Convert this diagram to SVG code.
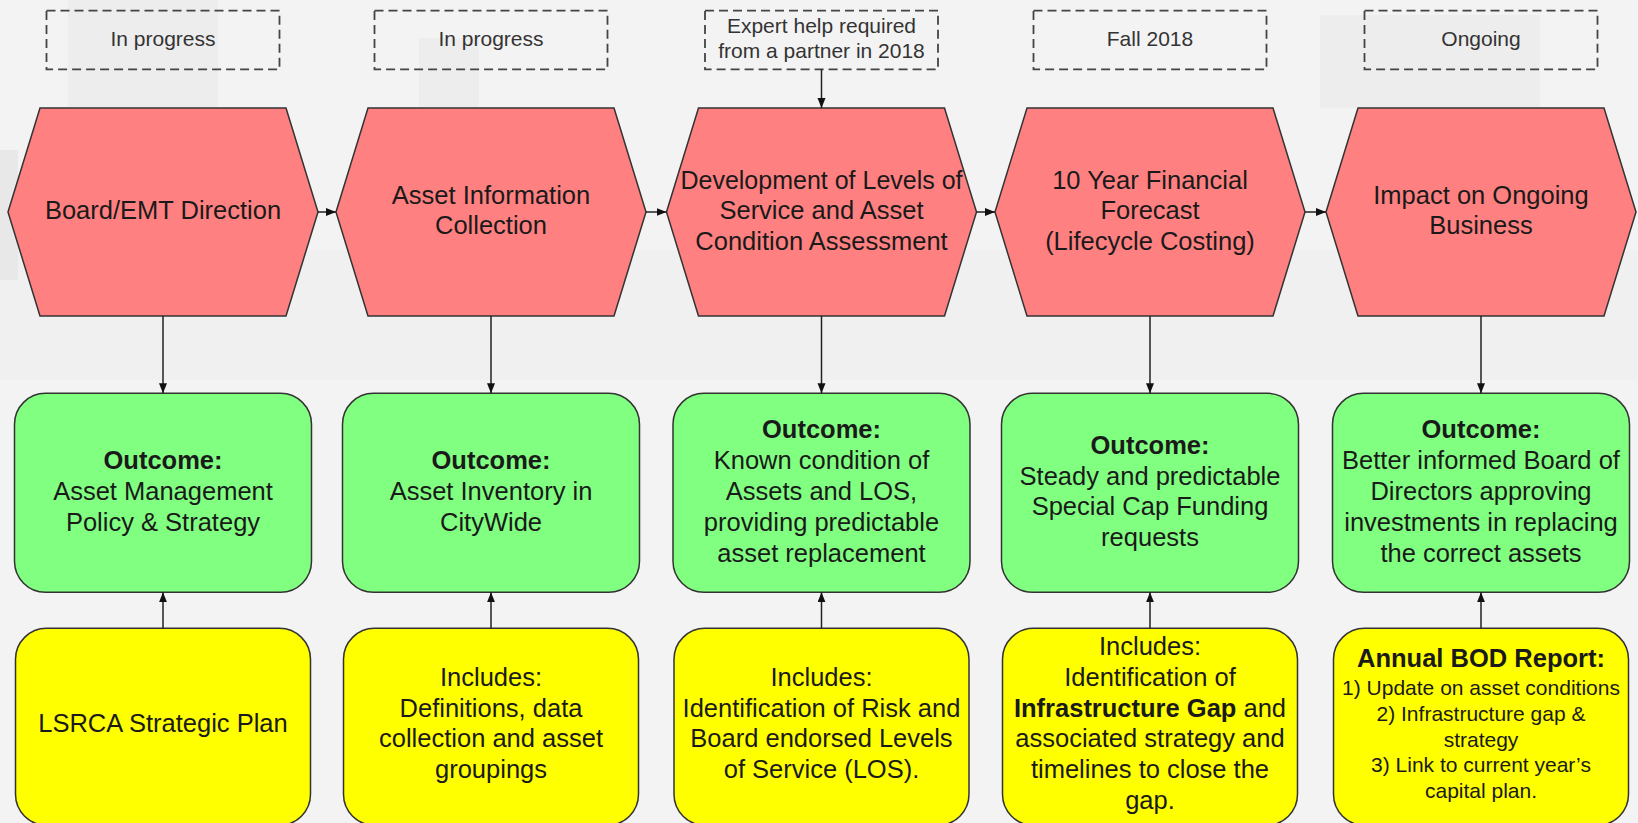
<svg xmlns="http://www.w3.org/2000/svg" width="1638" height="823" viewBox="0 0 1638 823">
<defs>
<marker id="ah" markerUnits="userSpaceOnUse" markerWidth="11" markerHeight="9" refX="10" refY="4" orient="auto">
<path d="M0,0 L10,4 L0,8 z" fill="#111"/>
</marker>
<style>
text{font-family:"Liberation Sans",Arial,sans-serif;fill:#1a1a1a;text-anchor:middle}
.st{font-size:21px;fill:#333}
.hx{font-size:25.5px}
.bx{font-size:25.5px}
.sm{font-size:21px}
.b{font-weight:bold}
.dash{fill:none;stroke:#444;stroke-width:1.8;stroke-dasharray:9 5}
.hex{fill:#ff8080;stroke:#333;stroke-width:1.5}
.grn{fill:#80ff80;stroke:#333;stroke-width:1.5}
.yel{fill:#ffff00;stroke:#333;stroke-width:1.5}
.cn{fill:none;stroke:#222;stroke-width:1.5;marker-end:url(#ah)}
</style>
</defs>
<rect x="0" y="0" width="1638" height="823" fill="#f3f3f3"/>
<g id="background" fill="#ededed">
<rect x="0" y="250" width="1638" height="130" fill="#f0f0f0"/>
<rect x="68" y="0" width="150" height="108"/>
<rect x="0" y="150" width="18" height="130" fill="#e8e8e8"/>
<rect x="419" y="38" width="60" height="70"/>
<rect x="1320" y="15" width="220" height="93"/>
</g>
<g id="status1"><rect class="dash" x="46.5" y="10.7" width="233" height="58.6"/><text class="st" x="163" y="46">In progress</text></g>
<g id="status2"><rect class="dash" x="374.5" y="10.7" width="233" height="58.6"/><text class="st" x="491" y="46">In progress</text></g>
<g id="status3"><rect class="dash" x="705" y="10.7" width="233" height="58.6"/><text class="st" x="821.5" y="33">Expert help required</text><text class="st" x="821.5" y="58">from a partner in 2018</text></g>
<g id="status4"><rect class="dash" x="1033.5" y="10.7" width="233" height="58.6"/><text class="st" x="1150" y="46">Fall 2018</text></g>
<g id="status5"><rect class="dash" x="1364.5" y="10.7" width="233" height="58.6"/><text class="st" x="1481" y="46">Ongoing</text></g>

<g id="step1"><polygon class="hex" points="8,212 40,108 286,108 318,212 286,316 40,316"/><text class="hx" x="163" y="219">Board/EMT Direction</text></g>
<g id="step2"><polygon class="hex" points="336,212 368,108 614,108 646,212 614,316 368,316"/><text class="hx" x="491" y="203.7">Asset Information</text><text class="hx" x="491" y="234.3">Collection</text></g>
<g id="step3"><polygon class="hex" points="666.5,212 698.5,108 944.5,108 976.5,212 944.5,316 698.5,316"/><text class="hx" x="821.5" y="188.5" style="font-size:25px">Development of Levels of</text><text class="hx" x="821.5" y="219">Service and Asset</text><text class="hx" x="821.5" y="249.5">Condition Assessment</text></g>
<g id="step4"><polygon class="hex" points="995,212 1027,108 1273,108 1305,212 1273,316 1027,316"/><text class="hx" x="1150" y="188.5">10 Year Financial</text><text class="hx" x="1150" y="219">Forecast</text><text class="hx" x="1150" y="249.5">(Lifecycle Costing)</text></g>
<g id="step5"><polygon class="hex" points="1326,212 1358,108 1604,108 1636,212 1604,316 1358,316"/><text class="hx" x="1481" y="203.7">Impact on Ongoing</text><text class="hx" x="1481" y="234.3">Business</text></g>

<g id="outcome1"><rect class="grn" x="14.5" y="393.3" width="297" height="199" rx="31"/><text class="bx b" x="163" y="469.2">Outcome:</text><text class="bx" x="163" y="500">Asset Management</text><text class="bx" x="163" y="530.8">Policy &amp; Strategy</text></g>
<g id="outcome2"><rect class="grn" x="342.5" y="393.3" width="297" height="199" rx="31"/><text class="bx b" x="491" y="469.2">Outcome:</text><text class="bx" x="491" y="500">Asset Inventory in</text><text class="bx" x="491" y="530.8">CityWide</text></g>
<g id="outcome3"><rect class="grn" x="673" y="393.3" width="297" height="199" rx="31"/><text class="bx b" x="821.5" y="438.4">Outcome:</text><text class="bx" x="821.5" y="469.2">Known condition of</text><text class="bx" x="821.5" y="500">Assets and LOS,</text><text class="bx" x="821.5" y="530.8">providing predictable</text><text class="bx" x="821.5" y="561.6">asset replacement</text></g>
<g id="outcome4"><rect class="grn" x="1001.5" y="393.3" width="297" height="199" rx="31"/><text class="bx b" x="1150" y="453.8">Outcome:</text><text class="bx" x="1150" y="484.6">Steady and predictable</text><text class="bx" x="1150" y="515.4">Special Cap Funding</text><text class="bx" x="1150" y="546.2">requests</text></g>
<g id="outcome5"><rect class="grn" x="1332.5" y="393.3" width="297" height="199" rx="31"/><text class="bx b" x="1481" y="438.4">Outcome:</text><text class="bx" x="1481" y="469.2">Better informed Board of</text><text class="bx" x="1481" y="500">Directors approving</text><text class="bx" x="1481" y="530.8">investments in replacing</text><text class="bx" x="1481" y="561.6">the correct assets</text></g>

<g id="input1"><rect class="yel" x="15.5" y="628.3" width="295" height="197" rx="31"/><text class="bx" x="163" y="732">LSRCA Strategic Plan</text></g>
<g id="input2"><rect class="yel" x="343.5" y="628.3" width="295" height="197" rx="31"/><text class="bx" x="491" y="685.8">Includes:</text><text class="bx" x="491" y="716.6">Definitions, data</text><text class="bx" x="491" y="747.4">collection and asset</text><text class="bx" x="491" y="778.2">groupings</text></g>
<g id="input3"><rect class="yel" x="674" y="628.3" width="295" height="197" rx="31"/><text class="bx" x="821.5" y="685.8">Includes:</text><text class="bx" x="821.5" y="716.6">Identification of Risk and</text><text class="bx" x="821.5" y="747.4">Board endorsed Levels</text><text class="bx" x="821.5" y="778.2">of Service (LOS).</text></g>
<g id="input4"><rect class="yel" x="1002.5" y="628.3" width="295" height="197" rx="31"/><text class="bx" x="1150" y="655">Includes:</text><text class="bx" x="1150" y="685.8">Identification of</text><text class="bx" x="1150" y="716.6"><tspan class="b">Infrastructure Gap</tspan> and</text><text class="bx" x="1150" y="747.4">associated strategy and</text><text class="bx" x="1150" y="778.2">timelines to close the</text><text class="bx" x="1150" y="809">gap.</text></g>
<g id="input5"><rect class="yel" x="1333.5" y="628.3" width="295" height="197" rx="31"/><text class="bx b" x="1481" y="667">Annual BOD Report:</text><text class="sm" x="1481" y="695">1) Update on asset conditions</text><text class="sm" x="1481" y="721">2) Infrastructure gap &amp;</text><text class="sm" x="1481" y="746.5">strategy</text><text class="sm" x="1481" y="772">3) Link to current year’s</text><text class="sm" x="1481" y="797.5">capital plan.</text></g>

<g id="connectors">
<line class="cn" x1="821.5" y1="69.3" x2="821.5" y2="108"/>
<line class="cn" x1="318" y1="212" x2="336" y2="212"/>
<line class="cn" x1="646" y1="212" x2="666.5" y2="212"/>
<line class="cn" x1="976.5" y1="212" x2="995" y2="212"/>
<line class="cn" x1="1305" y1="212" x2="1326" y2="212"/>
<line class="cn" x1="163" y1="316" x2="163" y2="393.3"/>
<line class="cn" x1="491" y1="316" x2="491" y2="393.3"/>
<line class="cn" x1="821.5" y1="316" x2="821.5" y2="393.3"/>
<line class="cn" x1="1150" y1="316" x2="1150" y2="393.3"/>
<line class="cn" x1="1481" y1="316" x2="1481" y2="393.3"/>
<line class="cn" x1="163" y1="628.3" x2="163" y2="592.3"/>
<line class="cn" x1="491" y1="628.3" x2="491" y2="592.3"/>
<line class="cn" x1="821.5" y1="628.3" x2="821.5" y2="592.3"/>
<line class="cn" x1="1150" y1="628.3" x2="1150" y2="592.3"/>
<line class="cn" x1="1481" y1="628.3" x2="1481" y2="592.3"/>
</g>
</svg>
